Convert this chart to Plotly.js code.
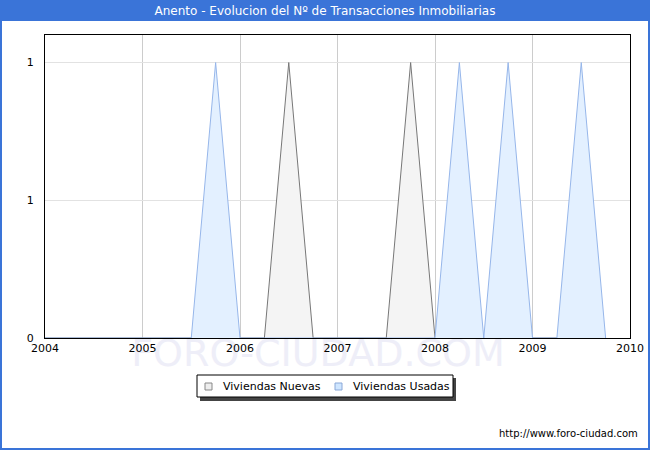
<!DOCTYPE html>
<html>
<head>
<meta charset="utf-8">
<script src="https://cdn.plot.ly/plotly-3.0.1.min.js"></script>
<style>
  html, body { margin: 0; padding: 0; background: #fff; }
  #marco { position: relative; width: 650px; height: 450px; }
  #marca {
    position: absolute; left: 0; width: 636px; top: 331px;
    text-align: center; font-family: 'DejaVu Sans', Verdana, sans-serif;
    font-size: 38px; line-height: 44px; color: #eeeef8; white-space: nowrap;
  }
  #chart { position: absolute; left: 0; top: 0; width: 650px; height: 450px; }
</style>
</head>
<body>
<div id="marco">
  <div id="marca">FORO-CIUDAD.COM</div>
  <div id="chart"></div>
</div>
<script>
// trimestres de 2004 a 2009
var trimestres = [
  2004.00, 2004.25, 2004.50, 2004.75,
  2005.00, 2005.25, 2005.50, 2005.75,
  2006.00, 2006.25, 2006.50, 2006.75,
  2007.00, 2007.25, 2007.50, 2007.75,
  2008.00, 2008.25, 2008.50, 2008.75,
  2009.00, 2009.25, 2009.50, 2009.75
];
var nuevas = [
  0, 0, 0, 0,
  0, 0, 0, 0,
  0, 0, 1, 0,
  0, 0, 0, 1,
  0, 0, 0, 0,
  0, 0, 0, 0
];
var usadas = [
  0, 0, 0, 0,
  0, 0, 0, 1,
  0, 0, 0, 0,
  0, 0, 0, 0,
  0, 1, 0, 1,
  0, 0, 1, 0
];
var anios = [2004, 2005, 2006, 2007, 2008, 2009, 2010];
var ticksY = [0, 0.5, 1];
var etiquetasY = ['0', '1', '1'];
var nombreNuevas = 'Viviendas Nuevas';
var nombreUsadas = 'Viviendas Usadas';
var titulo = 'Anento - Evolucion del Nº de Transacciones Inmobiliarias';

var colorNuevas = {fill: '#f4f4f4', line: '#777777', caja: '#eeeeee', borde: '#888888'};
var colorUsadas = {fill: '#e3f0ff', line: '#96b6ea', caja: '#cfe6ff', borde: '#8aa8d8'};

// conversion de pixeles a coordenadas paper (area de trazado 45..630 x 35..338)
function px(x) { return (x - 45) / 585; }
function py(y) { return (338 - y) / 303; }

var data = [{
  type: 'scatter',
  mode: 'lines',
  x: trimestres,
  y: nuevas,
  name: nombreNuevas,
  fill: 'tozeroy',
  fillcolor: colorNuevas.fill,
  line: {color: colorNuevas.line, width: 1},
  showlegend: false
}, {
  type: 'scatter',
  mode: 'lines',
  x: trimestres,
  y: usadas,
  name: nombreUsadas,
  fill: 'tozeroy',
  fillcolor: colorUsadas.fill,
  line: {color: colorUsadas.line, width: 1},
  showlegend: false
}];

var fuente = 'DejaVu Sans, Verdana, sans-serif';

function rect(x0, y0, x1, y1, fill, linea, capa) {
  return {type: 'rect', xref: 'paper', yref: 'paper', layer: capa || 'above',
          x0: px(x0), x1: px(x1), y0: py(y1), y1: py(y0),
          fillcolor: fill, line: linea ? {color: linea, width: 1} : {width: 0}};
}

function texto(t, x, y, anchor, size) {
  return {text: t, xref: 'paper', yref: 'paper', x: px(x), y: py(y),
          xanchor: anchor, yanchor: 'middle', showarrow: false,
          font: {family: fuente, size: size, color: '#000'}};
}

var layout = {
  width: 650,
  height: 450,
  margin: {l: 45, r: 20, t: 35, b: 112},
  paper_bgcolor: 'rgba(0,0,0,0)',
  plot_bgcolor: 'rgba(0,0,0,0)',
  showlegend: false,
  title: {
    text: titulo,
    font: {family: fuente, size: 12, color: '#ffffff'},
    x: 0.5, xanchor: 'center',
    y: 1 - 11 / 450, yanchor: 'middle', yref: 'container'
  },
  xaxis: {
    range: [2004, 2010],
    tickvals: anios,
    ticktext: anios.map(String),
    showgrid: true,
    gridcolor: '#cccccc',
    showline: true,
    linecolor: '#000000',
    linewidth: 1,
    mirror: true,
    ticks: '',
    zeroline: false,
    tickfont: {family: fuente, size: 11, color: '#000'},
    fixedrange: true
  },
  yaxis: {
    range: [0, 1.1],
    tickvals: ticksY,
    ticktext: etiquetasY,
    showgrid: true,
    gridcolor: '#e2e2e2',
    showline: true,
    linecolor: '#000000',
    linewidth: 1,
    mirror: true,
    ticks: '',
    ticklabelstandoff: 8,
    zeroline: false,
    tickfont: {family: fuente, size: 11, color: '#000'},
    fixedrange: true
  },
  shapes: [
    // barra del titulo
    rect(0, 0, 650, 21, '#3a74d8', null, 'below'),
    // leyenda: sombra, caja y muestras de color
    rect(200, 378, 456, 401, '#444444'),
    rect(197, 375, 453, 397, '#ffffff', '#000000'),
    rect(205, 383, 212, 390, colorNuevas.caja, colorNuevas.borde),
    rect(335, 383, 342, 390, colorUsadas.caja, colorUsadas.borde),
    // marco exterior
    {type: 'rect', xref: 'paper', yref: 'paper', layer: 'above',
     x0: px(1), x1: px(649), y0: py(449), y1: py(1),
     fillcolor: 'rgba(0,0,0,0)', line: {color: '#3a74d8', width: 2}}
  ],
  annotations: [
    texto(nombreNuevas, 221, 386.5, 'left', 11),
    texto(nombreUsadas, 351, 386.5, 'left', 11),
    texto('http://www.foro-ciudad.com', 640, 433, 'right', 10)
  ]
};

Plotly.newPlot('chart', data, layout, {displayModeBar: false, staticPlot: true});
</script>
</body>
</html>
